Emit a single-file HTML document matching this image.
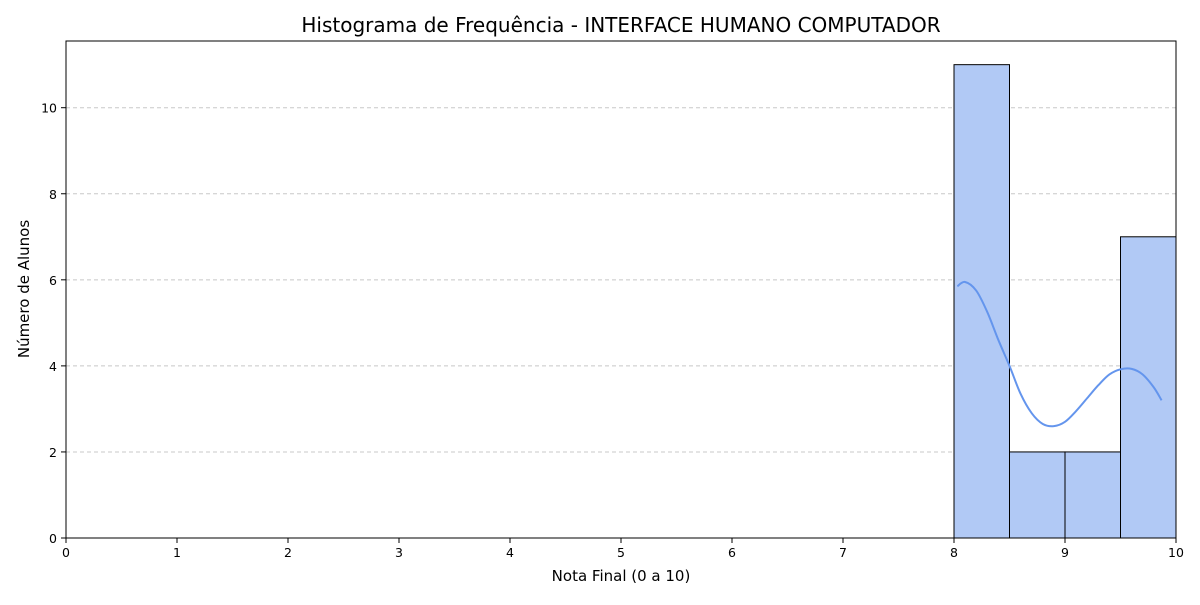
<!DOCTYPE html>
<html><head><meta charset="utf-8"><style>
body{margin:0;background:#fff;}
svg{font-family:"DejaVu Sans","Liberation Sans",sans-serif;}
</style></head><body>
<svg id="chart" width="1200" height="600">
<text x="621" y="32" font-size="20" text-anchor="middle">Histograma de Frequência - INTERFACE HUMANO COMPUTADOR</text>
<g id="grid"></g><g id="bars"></g><g id="curve"></g><g id="axes"></g>
<text x="621" y="581" font-size="15" text-anchor="middle">Nota Final (0 a 10)</text>
<text transform="translate(29,289) rotate(-90)" font-size="15" text-anchor="middle">Número de Alunos</text>
</svg>
<script>
const binEdges=[8,8.5,9,9.5,10];
const counts=[11,2,2,7];
const kdeX=[8.03,8.1,8.2,8.3,8.4,8.5,8.6,8.7,8.8,8.9,9.0,9.1,9.2,9.3,9.4,9.5,9.6,9.7,9.8,9.87];
const kdeY=[5.85,5.95,5.75,5.25,4.6,4.0,3.35,2.9,2.65,2.6,2.7,2.95,3.25,3.55,3.8,3.92,3.93,3.8,3.5,3.2];
const xTicks=[0,1,2,3,4,5,6,7,8,9,10];
const yTicks=[0,2,4,6,8,10];
const X0=66,X1=1176,Y0=538,YT=41,YMAX=11.55;
const sx=v=>X0+(X1-X0)*v/10;
const sy=v=>Y0-(Y0-YT)*v/YMAX;
const NS="http://www.w3.org/2000/svg";
function mk(p,t,a){const e=document.createElementNS(NS,t);for(const k in a)e.setAttribute(k,a[k]);p.appendChild(e);return e;}
const grid=document.getElementById('grid'),bars=document.getElementById('bars'),curve=document.getElementById('curve'),axes=document.getElementById('axes');
yTicks.forEach(t=>{if(t>0){const l=mk(grid,'line',{x1:X0,x2:X1,y1:sy(t),y2:sy(t),stroke:'#c8c8c8','stroke-dasharray':'4,3'});

}});
counts.forEach((c,i)=>{const r=mk(bars,'rect',{x:sx(binEdges[i]),y:sy(c),width:sx(binEdges[i+1])-sx(binEdges[i]),height:Y0-sy(c),fill:'#b1c9f5',stroke:'#000','stroke-width':1});

});
const pts=kdeX.map((x,i)=>[sx(x),sy(kdeY[i])]);
let d='M'+pts[0][0]+','+pts[0][1];
for(let i=0;i<pts.length-1;i++){const p0=pts[Math.max(0,i-1)],p1=pts[i],p2=pts[i+1],p3=pts[Math.min(pts.length-1,i+2)];
d+=' C'+(p1[0]+(p2[0]-p0[0])/6)+','+(p1[1]+(p2[1]-p0[1])/6)+' '+(p2[0]-(p3[0]-p1[0])/6)+','+(p2[1]-(p3[1]-p1[1])/6)+' '+p2[0]+','+p2[1];}
const p=mk(curve,'path',{d:d,fill:'none',stroke:'#6495ed','stroke-width':2});


const f=mk(axes,'rect',{x:X0,y:YT,width:X1-X0,height:Y0-YT,fill:'none',stroke:'#000','stroke-width':1});


xTicks.forEach(t=>{mk(axes,'line',{x1:sx(t),x2:sx(t),y1:Y0,y2:Y0+5,stroke:'#000'});
const tx=mk(axes,'text',{x:sx(t),y:Y0+19,'font-size':12.5,'text-anchor':'middle'});tx.textContent=t;

});
yTicks.forEach(t=>{mk(axes,'line',{x1:X0-5,x2:X0,y1:sy(t),y2:sy(t),stroke:'#000'});
const tx=mk(axes,'text',{x:X0-9,y:sy(t)+5,'font-size':12.5,'text-anchor':'end'});tx.textContent=t;

});
</script>
</body></html>
